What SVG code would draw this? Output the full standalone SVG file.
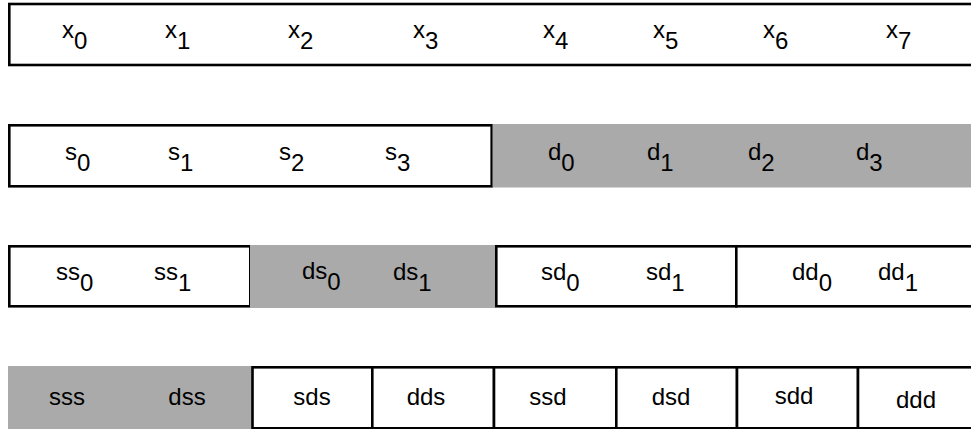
<svg xmlns="http://www.w3.org/2000/svg" width="971" height="429" viewBox="0 0 971 429">
<style>
  text { font-family: "Liberation Sans", Arial, sans-serif; font-size: 24px; fill: #000; }
  .box { fill: #fff; stroke: #000; stroke-width: 2.6; }
  .gray { fill: #aaaaaa; stroke: none; }
  .c { text-anchor: middle; }
</style>
<rect width="971" height="429" fill="#fff"/>

<g id="row1">
  <rect class="box" x="9.3" y="4" width="975" height="61"/>
  <text x="62" y="38">x<tspan dy="11">0</tspan></text>
  <text x="165" y="38">x<tspan dy="11">1</tspan></text>
  <text x="288" y="38">x<tspan dy="11">2</tspan></text>
  <text x="413" y="38">x<tspan dy="11">3</tspan></text>
  <text x="543" y="38">x<tspan dy="11">4</tspan></text>
  <text x="653" y="38">x<tspan dy="11">5</tspan></text>
  <text x="763" y="38">x<tspan dy="11">6</tspan></text>
  <text x="886" y="38">x<tspan dy="11">7</tspan></text>
</g>

<g id="row2-s">
  <rect class="box" x="9.3" y="125.3" width="482.4" height="61"/>
  <text x="65" y="160">s<tspan dy="11">0</tspan></text>
  <text x="168" y="160">s<tspan dy="11">1</tspan></text>
  <text x="279" y="160">s<tspan dy="11">2</tspan></text>
  <text x="385" y="160">s<tspan dy="11">3</tspan></text>
</g>
<g id="row2-d">
  <rect class="gray" x="492.5" y="124" width="480" height="63.5"/>
  <text x="548" y="160">d<tspan dy="11">0</tspan></text>
  <text x="647" y="160">d<tspan dy="11">1</tspan></text>
  <text x="748" y="160">d<tspan dy="11">2</tspan></text>
  <text x="856" y="160">d<tspan dy="11">3</tspan></text>
</g>

<g id="row3-ss">
  <rect class="box" x="9.3" y="246.3" width="241" height="60"/>
  <text x="56" y="280">ss<tspan dy="11">0</tspan></text>
  <text x="154" y="280">ss<tspan dy="11">1</tspan></text>
</g>
<g id="row3-ds">
  <rect class="gray" x="250" y="245" width="245" height="63"/>
  <text x="302" y="279">ds<tspan dy="11">0</tspan></text>
  <text x="393" y="280">ds<tspan dy="11">1</tspan></text>
</g>
<g id="row3-sd">
  <rect class="box" x="496.3" y="246.3" width="240" height="60"/>
  <text x="541" y="280">sd<tspan dy="11">0</tspan></text>
  <text x="646" y="280">sd<tspan dy="11">1</tspan></text>
</g>
<g id="row3-dd">
  <rect class="box" x="736.3" y="246.3" width="250" height="60"/>
  <text x="792" y="280">dd<tspan dy="11">0</tspan></text>
  <text x="878" y="280">dd<tspan dy="11">1</tspan></text>
</g>

<g id="row4-sss">
  <rect class="gray" x="8" y="366" width="125" height="63"/>
  <text class="c" x="67" y="405">sss</text>
</g>
<g id="row4-dss">
  <rect class="gray" x="132" y="366" width="121" height="63"/>
  <text class="c" x="187" y="405">dss</text>
</g>
<g id="row4-sds">
  <rect class="box" x="252.5" y="367.3" width="119.8" height="61"/>
  <text class="c" x="312" y="405">sds</text>
</g>
<g id="row4-dds">
  <rect class="box" x="372.3" y="367.3" width="121.7" height="61"/>
  <text class="c" x="426" y="405">dds</text>
</g>
<g id="row4-ssd">
  <rect class="box" x="494" y="367.3" width="122.3" height="61"/>
  <text class="c" x="548" y="405">ssd</text>
</g>
<g id="row4-dsd">
  <rect class="box" x="616.3" y="367.3" width="120.7" height="61"/>
  <text class="c" x="671" y="405">dsd</text>
</g>
<g id="row4-sdd">
  <rect class="box" x="737" y="367.3" width="121" height="61"/>
  <text class="c" x="794" y="404">sdd</text>
</g>
<g id="row4-ddd">
  <rect class="box" x="858" y="367.3" width="130" height="61"/>
  <text class="c" x="916" y="408">ddd</text>
</g>

<g id="connectors"></g>
</svg>
